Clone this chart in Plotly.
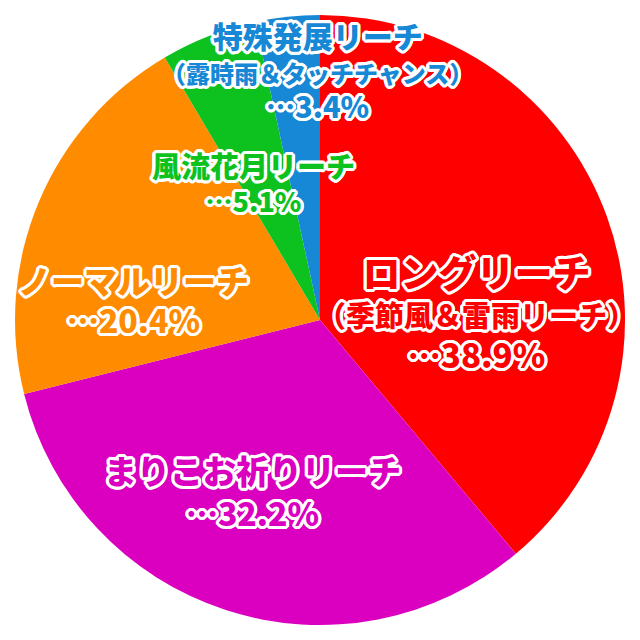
import plotly.graph_objects as go

# slice data, clockwise from 12 o'clock
names = ['ロングリーチ', 'まりこお祈りリーチ', 'ノーマルリーチ', '風流花月リーチ', '特殊発展リーチ']
shares = [38.9, 32.2, 20.4, 5.1, 3.4]
colors = ['#FE0000', '#DB00BF', '#FF8C00', '#0DC21E', '#1688D5']

# label text per slice: lines and their font sizes
label_text = [
    ['ロングリーチ', '（季節風＆雷雨リーチ）', '…38.9%'],
    ['まりこお祈りリーチ', '…32.2%'],
    ['ノーマルリーチ', '…20.4%'],
    ['風流花月リーチ', '…5.1%'],
    ['特殊発展リーチ', '（露時雨＆タッチチャンス）', '…3.4%'],
]
label_sizes = [
    [38, 29, 33],
    [33, 32],
    [33, 32],
    [29, 27],
    [30, 24, 29],
]
# (centre x px, centre y px, base size that sets line spacing)
label_pos = [(476, 310, 31), (252, 490, 32), (133, 299, 30), (253, 182, 26), (317, 69, 27)]

W = 640
BODY = 8  # default page margin of the html body
ML, MT = 15 - BODY, 15 - BODY
MR, MB = 15 + BODY, 15 + BODY
S = W - ML - MR

# white outline made of stacked shadows
offs = [(3, 0), (-3, 0), (0, 3), (0, -3), (2, 2), (-2, 2), (2, -2), (-2, -2),
        (3, 1), (3, -1), (-3, 1), (-3, -1), (1, 3), (-1, 3), (1, -3), (-1, -3)]
outline = ', '.join('%dpx %dpx 0 #fff' % o for o in offs)

fig = go.Figure(go.Pie(
    labels=names,
    values=shares,
    sort=False,
    direction='clockwise',
    rotation=0,
    marker=dict(colors=colors, line=dict(width=0)),
    textinfo='none',
    hoverinfo='label+percent',
    showlegend=False,
))

annotations = []
for col, lines, sizes, (px, py, base) in zip(colors, label_text, label_sizes, label_pos):
    txt = '<br>'.join('<span style="font-size:%dpx">%s</span>' % (s, t) for t, s in zip(lines, sizes))
    annotations.append(dict(
        text=txt,
        x=(px - BODY - ML) / S, y=1 - (py - BODY - MT) / S,
        xref='paper', yref='paper',
        xanchor='center', yanchor='middle', align='center',
        showarrow=False,
        font=dict(family='Noto Sans CJK JP', size=base, color=col, weight=900, shadow=outline),
    ))

fig.update_layout(
    width=W, height=W,
    margin=dict(l=ML, r=MR, t=MT, b=MB),
    paper_bgcolor='#FFF',
    plot_bgcolor='#FFF',
    annotations=annotations,
)

fig.write_html('out.html')
